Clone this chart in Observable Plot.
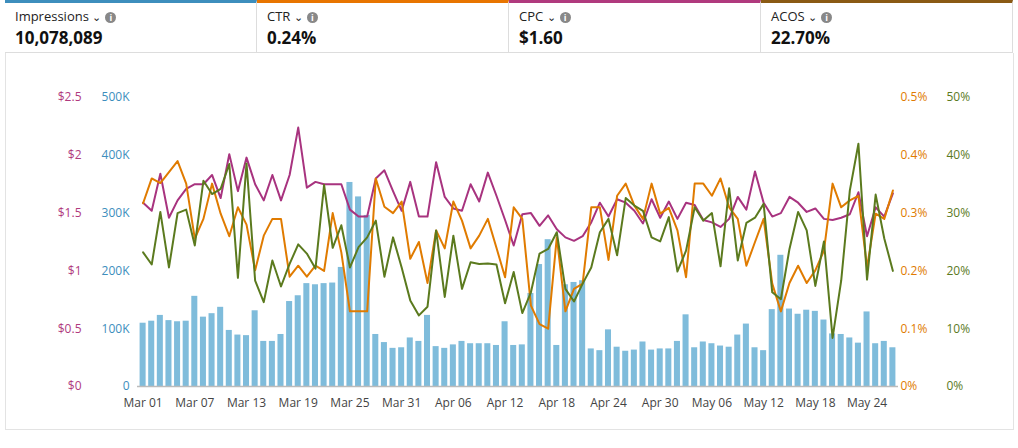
<!DOCTYPE html>
<html><head><meta charset="utf-8">
<script src="https://cdn.jsdelivr.net/npm/d3@7"></script>
<script src="https://cdn.jsdelivr.net/npm/@observablehq/plot@0.6"></script>
<style>
body{margin:0;font-family:"Open Sans",Arial,sans-serif;background:#fff;width:1018px;height:448px;overflow:hidden}
.cards{display:flex;height:52px;border-bottom:1px solid #ddd;margin:0 5px}
.card{flex:1;border-top:3px solid;border-right:1px solid #ddd;padding:4px 10px;box-sizing:border-box}
.lab{font-size:13px;color:#222}
.lab .i{display:inline-block;width:11px;height:11px;border-radius:50%;background:#888;color:#fff;font-size:9px;text-align:center;line-height:11px;margin-left:4px;font-weight:bold}
.val{font-size:17px;font-weight:bold;color:#111;margin-top:1px}
.panel{position:absolute;left:5px;top:53px;width:1007px;height:376px;border:1px solid #e3e3e3;border-top:none}
#chart{position:absolute;left:0;top:60px}
</style></head><body>
<div class="cards" id="cards"></div>
<div class="panel"></div>
<div id="chart"></div>
<script>
const metricNames=["Impressions","CTR","CPC","ACOS"];
const metricValues=["10,078,089","0.24%","$1.60","22.70%"];
const metricColors=["#3d8ebd","#e87500","#b03a7e","#8a5a14"];
const tickLabels=["Mar 01","Mar 07","Mar 13","Mar 19","Mar 25","Mar 31","Apr 06","Apr 12","Apr 18","Apr 24","Apr 30","May 06","May 12","May 18","May 24"];
const impressionsK=[109.5,113,123,114,112,113,156,120,126,137,97,89,88,131,78,78,90,147,157,178,176,178,179,206,353,328,296,90,76,66,
67,84,78,123,69,66,72,78,74,74,74,71,112,71,72,161,211,254,71,176,180,183,65,62,98,68,61,63,77,
63,65,65,78,124,67,77,74,70,68,89,108,67,62,133,227,134,125,132,130,115,91,90,84,75,129,74,78,67];
const cpc=[1.59,1.52,1.84,1.46,1.61,1.71,1.75,1.75,1.83,1.63,2.01,1.69,1.98,1.75,1.61,1.83,1.61,1.83,2.24,1.72,1.77,1.75,1.75,1.75,1.53,1.47,1.47,1.80,1.87,1.69,
1.52,1.77,1.47,1.47,1.94,1.64,1.54,1.52,1.75,1.60,1.85,1.65,1.44,1.22,1.49,1.50,1.39,1.48,1.36,1.29,1.26,1.30,1.42,1.59,1.47,1.62,1.59,1.52,1.41,
1.62,1.46,1.60,1.45,1.59,1.57,1.44,1.42,1.38,1.45,1.64,1.53,1.86,1.59,1.47,1.50,1.64,1.59,1.51,1.54,1.45,1.44,1.46,1.49,1.68,1.30,1.55,1.47,1.67];
const ctr=[.317,.360,.352,.371,.390,.351,.256,.290,.351,.299,.260,.310,.280,.201,.261,.290,.290,.190,.209,.190,.209,.200,.300,.232,.130,.130,.130,.360,.311,.300,
.320,.221,.250,.179,.270,.239,.320,.287,.239,.261,.290,.240,.189,.310,.290,.140,.108,.100,.258,.130,.169,.178,.310,.310,.219,.330,.351,.313,.290,
.351,.299,.309,.270,.189,.351,.351,.330,.360,.310,.290,.209,.250,.290,.178,.130,.179,.209,.179,.201,.235,.351,.310,.322,.330,.206,.299,.290,.339];
const acos=[23.2,21.1,30.2,20.6,30.0,30.6,24.4,35.6,33.3,34.2,38.5,18.8,38.6,18.3,14.6,21.8,17.3,21.2,24.6,23.0,20.4,34.9,24.0,27.9,20.6,24.1,25.8,28.7,19.0,25.8,
20.6,14.9,12.3,13.8,27.0,15.5,26.1,16.9,21.5,21.2,21.3,21.1,14.4,19.8,12.7,16.3,23.0,23.8,26.7,16.9,14.7,17.8,20.6,26.7,29.0,22.7,32.6,31.3,30.4,
25.8,25.1,29.3,19.9,23.5,31.0,28.7,30.0,20.8,34.3,21.8,28.3,29.2,31.6,16.3,15.1,23.8,30.2,27.0,17.4,25.1,8.4,18.3,33.9,42.0,18.5,33.2,25.6,20.0];

document.getElementById("cards").innerHTML=metricNames.map((n,i)=>
 `<div class="card" style="border-top-color:${metricColors[i]}"><div class="lab">${n} <span style="font-size:11px">&#8964;</span><span class="i">i</span></div><div class="val">${metricValues[i]}</div></div>`).join("");

const idx=d3.range(impressionsK.length);
const data=idx.map(i=>({i,imp:impressionsK[i]*1000,cpc:cpc[i]/2.5*500000,ctr:ctr[i]/0.5*500000,acos:acos[i]/50*500000}));
const yt=[0,100000,200000,300000,400000,500000];
const tickIdx=tickLabels.map((_,k)=>k*6);
const chart=Plot.plot({
 width:1018,height:370,marginLeft:137,marginRight:120,marginTop:37,marginBottom:44,
 x:{type:"band",domain:idx,padding:0.3},
 y:{domain:[0,500000]},
 style:{fontFamily:"Open Sans, Arial, sans-serif",fontSize:"12px"},
 marks:[
  Plot.gridY(yt,{stroke:"#e6e6e6",strokeOpacity:1,strokeWidth:1.5,x1:130,x2:900}),
  Plot.axisY(yt,{anchor:"left",tickSize:0,tickPadding:6,dx:-2,tickFormat:d=>d===0?"0":d/1000+"K",fill:"#3d8ebd",label:null}),
  Plot.axisY(yt,{anchor:"left",tickSize:0,tickPadding:6,dx:-50,tickFormat:d=>d===0?"$0":"$"+(d/200000),fill:"#b03a7e",label:null}),
  Plot.axisY(yt,{anchor:"right",tickSize:0,tickPadding:6,dx:-4,tickFormat:d=>(d/1000000)+"%",fill:"#e07b00",label:null,textAnchor:"start"}),
  Plot.axisY(yt,{anchor:"right",tickSize:0,tickPadding:6,dx:42,tickFormat:d=>(d/10000)+"%",fill:"#5b7a1e",label:null,textAnchor:"start"}),
  Plot.barY(data,{x:"i",y:"imp",fill:"#7fbcdb"}),
  Plot.ruleY([0],{stroke:"#bbb",strokeWidth:1.5}),
  Plot.lineY(data,{x:"i",y:"cpc",stroke:"#a8337f",strokeWidth:2}),
  Plot.lineY(data,{x:"i",y:"ctr",stroke:"#e07b00",strokeWidth:2}),
  Plot.lineY(data,{x:"i",y:"acos",stroke:"#5b7a1e",strokeWidth:2}),
  Plot.axisX(tickIdx,{tickSize:0,tickPadding:12,tickFormat:(d,k)=>tickLabels[tickIdx.indexOf(d)],fill:"#444",label:null})
 ]
});
document.getElementById("chart").appendChild(chart);
</script></body></html>
